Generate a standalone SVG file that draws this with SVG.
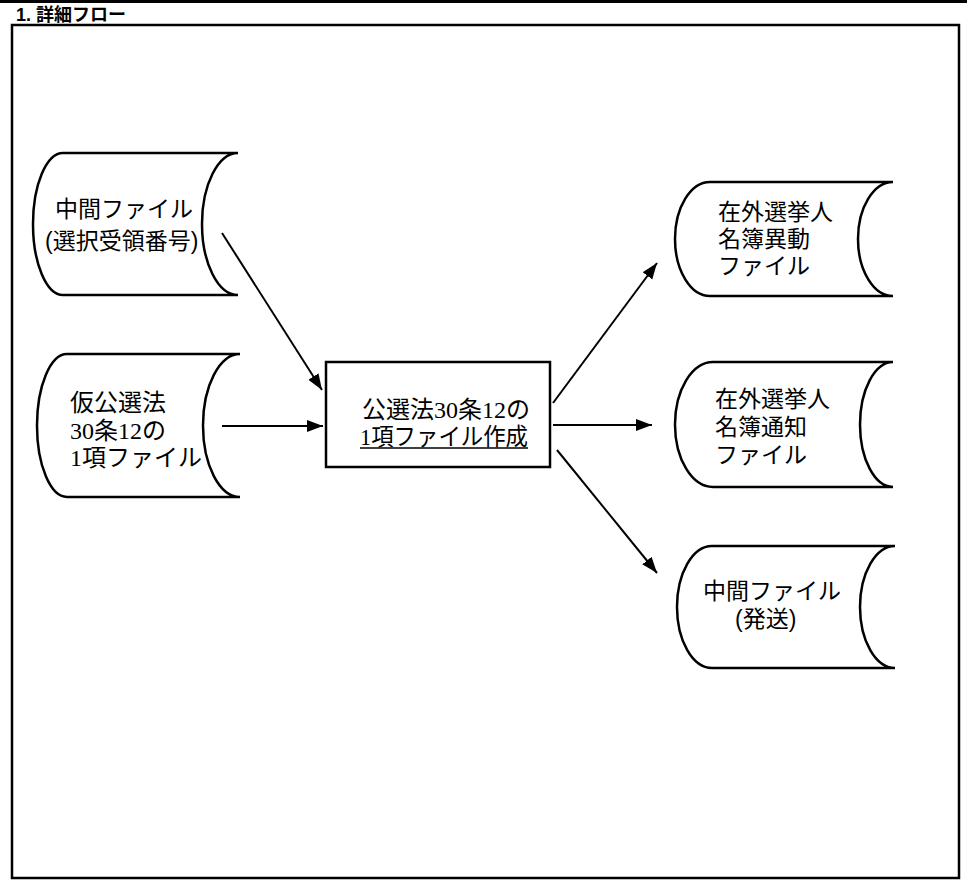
<svg xmlns="http://www.w3.org/2000/svg" width="967" height="882" viewBox="0 0 967 882">
<style>
.shape{fill:#fff;stroke:#000;stroke-width:2.5}
.frame{fill:none;stroke:#000;stroke-width:2.5}
.g{font-family:"Liberation Sans","Noto Sans CJK JP",sans-serif;fill:#000}
.m{font-family:"Liberation Serif","Noto Sans CJK JP",serif;fill:#000}
.conn{stroke:#000;stroke-width:2;fill:none}
</style>
<defs>
<marker id="arr" markerUnits="userSpaceOnUse" markerWidth="18" markerHeight="14" refX="16" refY="6" orient="auto">
<path d="M0,0 L16,6 L0,12 z" fill="#000"/>
</marker>
</defs>
<rect width="967" height="882" fill="#fff"/>
<g id="header">
<line x1="0" y1="1.5" x2="967" y2="1.5" stroke="#000" stroke-width="3"/>
<text class="g" x="16" y="21" font-size="18" font-weight="bold">1. 詳細フロー</text>
<rect class="frame" x="12" y="25" width="947" height="853"/>
</g>
<g id="node-mid-file">
<path class="shape" d="M63,153 L238,153 A36,71 0 0 0 238,295 L63,295 A30,71 0 0 1 63,153 Z"/>
<text class="g" x="55" y="217" font-size="23">中間ファイル</text>
<text class="g" x="45" y="249" font-size="23">(選択受領番号)</text>
</g>
<g id="node-temp-file">
<path class="shape" d="M67,354 L240,354 A37,71.5 0 0 0 240,497 L67,497 A30,71.5 0 0 1 67,354 Z"/>
<text class="m" x="70" y="411" font-size="24">仮公選法</text>
<text class="m" x="70" y="439" font-size="24">30条12の</text>
<text class="m" x="70" y="466" font-size="24">1項ファイル</text>
</g>
<g id="node-process">
<rect class="shape" x="326" y="362" width="224" height="105"/>
<text class="m" x="362" y="418" font-size="24">公選法30条12の</text>
<text class="m" x="360" y="445" font-size="24" textLength="168" lengthAdjust="spacingAndGlyphs">1項ファイル作成</text>
<line x1="360" y1="448" x2="528" y2="448" stroke="#000" stroke-width="1.5"/>
</g>
<g id="node-change-file">
<path class="shape" d="M710,182 L893,182 A35,57 0 0 0 893,296 L710,296 A35,57 0 0 1 710,182 Z"/>
<text class="g" x="718" y="220" font-size="23">在外選挙人</text>
<text class="g" x="718" y="247" font-size="23">名簿異動</text>
<text class="g" x="718" y="274" font-size="23">ファイル</text>
</g>
<g id="node-notice-file">
<path class="shape" d="M713,362 L893,362 A33,62.5 0 0 0 893,487 L713,487 A38,62.5 0 0 1 713,362 Z"/>
<text class="g" x="715" y="407" font-size="23">在外選挙人</text>
<text class="g" x="715" y="435" font-size="23">名簿通知</text>
<text class="g" x="715" y="463" font-size="23">ファイル</text>
</g>
<g id="node-send-file">
<path class="shape" d="M712,546 L895,546 A35,61 0 0 0 895,668 L712,668 A35,61 0 0 1 712,546 Z"/>
<text class="g" x="703" y="599" font-size="23">中間ファイル</text>
<text class="g" x="735" y="627" font-size="23">(発送)</text>
</g>
<g id="connectors">
<line class="conn" x1="222" y1="233" x2="322" y2="390" marker-end="url(#arr)"/>
<line class="conn" x1="222" y1="426" x2="323" y2="426" marker-end="url(#arr)"/>
<line class="conn" x1="553" y1="403" x2="657" y2="263" marker-end="url(#arr)"/>
<line class="conn" x1="553" y1="425" x2="652" y2="425" marker-end="url(#arr)"/>
<line class="conn" x1="557" y1="450" x2="657" y2="573" marker-end="url(#arr)"/>
</g>
</svg>
